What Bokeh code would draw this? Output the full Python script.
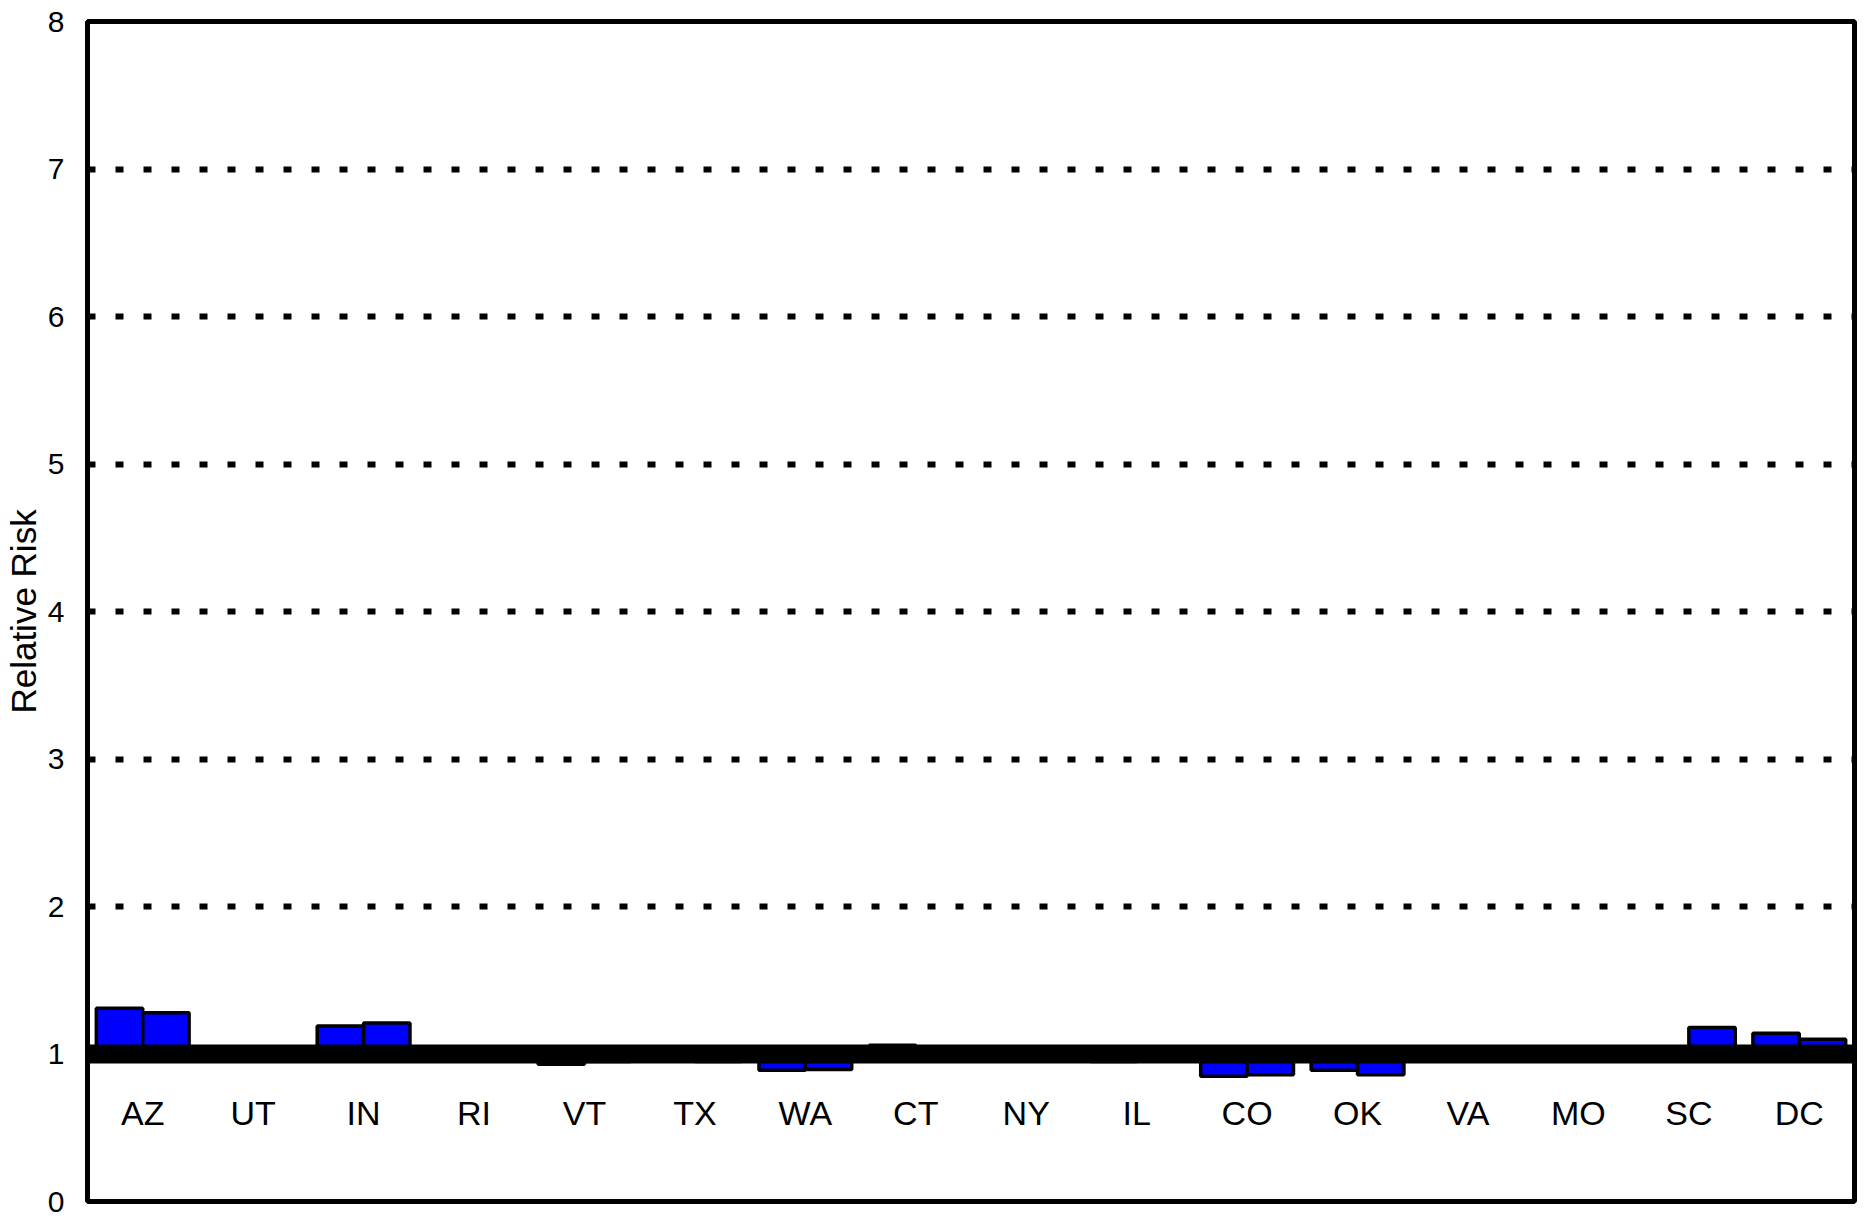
from bokeh.plotting import figure
from bokeh.models import FactorRange, FixedTicker, ColumnDataSource, Span
from bokeh.transform import dodge
from bokeh.core.properties import value
from bokeh.embed import file_html
from bokeh.resources import INLINE

states = ["AZ", "UT", "IN", "RI", "VT", "TX", "WA", "CT",
          "NY", "IL", "CO", "OK", "VA", "MO", "SC", "DC"]
series1 = [1.31, 1.00, 1.19, 1.00, 0.93, 0.97, 0.89, 1.06,
           1.00, 0.95, 0.85, 0.89, 1.00, 1.00, 0.96, 1.14]
series2 = [1.28, 1.00, 1.21, 1.00, 0.95, 0.95, 0.895, 1.00,
           1.00, 1.00, 0.86, 0.86, 1.05, 1.00, 1.18, 1.10]
y_ticks = [0, 1, 2, 3, 4, 5, 6, 7, 8]
baseline = 1.0
label_y = 0.6

FONT = "Liberation Sans"

src = ColumnDataSource(dict(state=states, s1=series1, s2=series2,
                            base=[baseline] * len(states),
                            ly=[label_y] * len(states)))

p = figure(x_range=FactorRange(factors=states, range_padding=0),
           y_range=(0, 8), width=1860, height=1220,
           output_backend="svg", toolbar_location=None,
           min_border_left=75, min_border_right=6,
           min_border_top=21, min_border_bottom=19)

p.background_fill_color = "white"
p.border_fill_color = "white"
p.outline_line_color = "black"
p.outline_line_width = 5

# grid
p.xgrid.grid_line_color = None
p.ygrid.ticker = FixedTicker(ticks=y_ticks[1:])
p.ygrid.grid_line_color = "black"
p.ygrid.grid_line_width = 6
p.ygrid.grid_line_dash = "8 20"
p.ygrid.grid_line_alpha = 1.0

# bars
p.vbar(x=dodge("state", -0.21, range=p.x_range), bottom="base", top="s1",
       width=0.42, source=src, fill_color="#0000FF", line_color="black",
       line_width=3.5)
p.vbar(x=dodge("state", 0.21, range=p.x_range), bottom="base", top="s2",
       width=0.42, source=src, fill_color="#0000FF", line_color="black",
       line_width=3.5)

# thick reference line at 1
p.add_layout(Span(location=baseline, dimension="width", line_color="black",
                  line_width=19))

# category labels inside plot
p.text(x="state", y="ly", text="state", source=src,
       text_font=value(FONT), text_font_size="34px", text_color="black",
       text_align="center", text_baseline="middle")

# axes
p.xaxis.visible = False
p.yaxis.ticker = FixedTicker(ticks=y_ticks)
p.yaxis.axis_line_color = None
p.yaxis.major_tick_line_color = None
p.yaxis.minor_tick_line_color = None
p.yaxis.major_label_text_font = FONT
p.yaxis.major_label_text_font_size = "30px"
p.yaxis.major_label_text_color = "black"
p.yaxis.major_label_standoff = 17
p.yaxis.axis_label = "Relative Risk"
p.yaxis.axis_label_text_font = FONT
p.yaxis.axis_label_text_font_size = "35px"
p.yaxis.axis_label_text_font_style = "normal"
p.yaxis.axis_label_text_color = "black"
p.yaxis.axis_label_standoff = 2

open("out.html", "w").write(file_html(p, INLINE))
